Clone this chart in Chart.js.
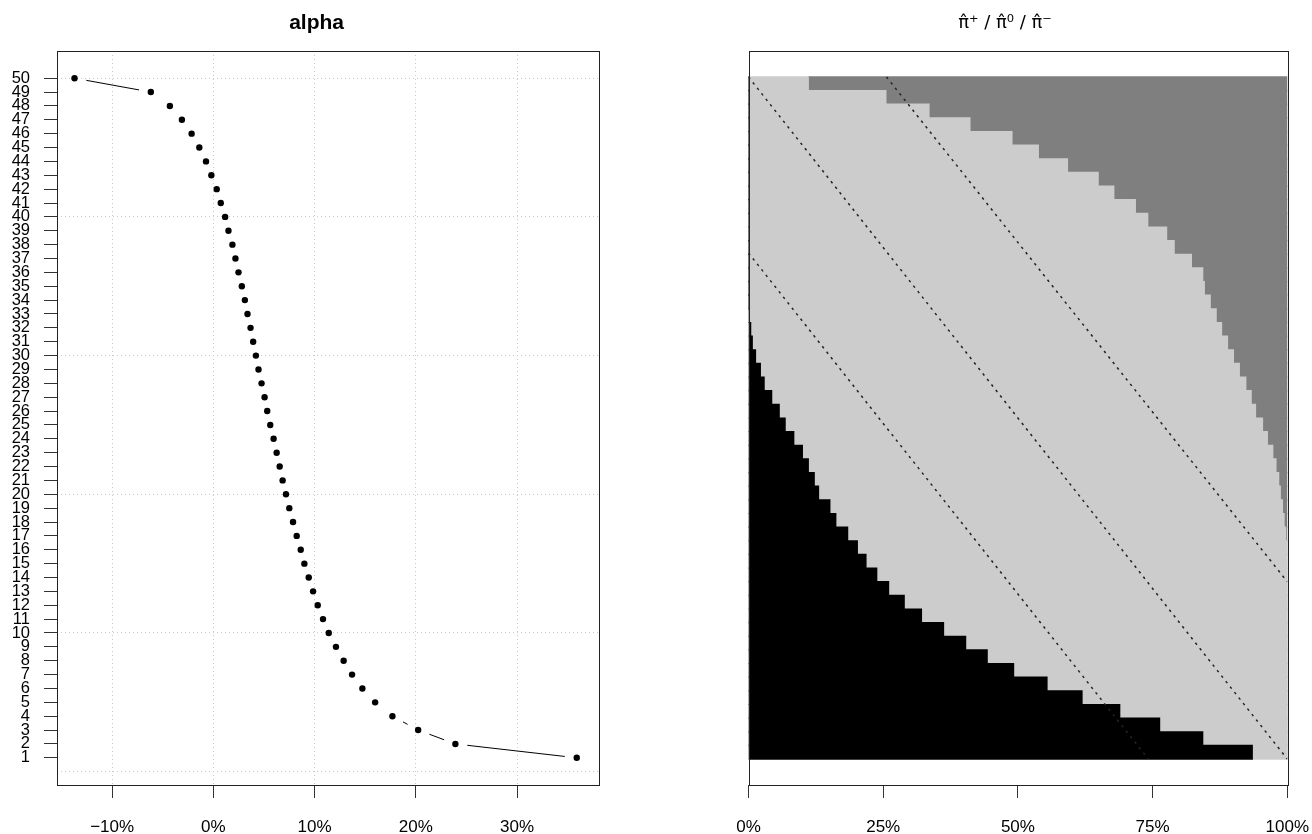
<!DOCTYPE html>
<html>
<head>
<meta charset="utf-8">
<script src="https://cdn.jsdelivr.net/npm/chart.js@4"></script>
<style>
  body { margin: 0; background: #fff; }
  canvas { position: absolute; top: 0; }
  #left { left: 0; }
  #right { left: 656px; }
</style>
</head>
<body>
<canvas id="left" width="656" height="834"></canvas>
<canvas id="right" width="656" height="834"></canvas>
<script>
// rows 1..50 (bottom to top)
const rows = [1, 2, 3, 4, 5, 6, 7, 8, 9, 10, 11, 12, 13, 14, 15, 16, 17, 18, 19, 20,
  21, 22, 23, 24, 25, 26, 27, 28, 29, 30, 31, 32, 33, 34, 35, 36, 37, 38, 39, 40,
  41, 42, 43, 44, 45, 46, 47, 48, 49, 50];

// alpha in percent, row 1..50
const alpha = [35.90, 23.91, 20.23, 17.69, 15.98, 14.72, 13.70, 12.87, 12.11, 11.40,
  10.83, 10.31, 9.85, 9.42, 8.99, 8.63, 8.23, 7.87, 7.50, 7.17,
  6.84, 6.55, 6.25, 5.95, 5.62, 5.32, 5.06, 4.76, 4.46, 4.20,
  3.93, 3.67, 3.37, 3.11, 2.81, 2.48, 2.18, 1.88, 1.49, 1.16,
  0.73, 0.33, -0.20, -0.73, -1.39, -2.15, -3.11, -4.30, -6.18, -13.72];

// shares per row (pi+ black, pi0 light gray, pi- dark gray)
const pPlus = [0.935, 0.843, 0.763, 0.689, 0.619, 0.554, 0.492, 0.443, 0.403, 0.362,
  0.321, 0.289, 0.260, 0.238, 0.218, 0.202, 0.184, 0.162, 0.151, 0.130,
  0.122, 0.111, 0.100, 0.084, 0.068, 0.057, 0.043, 0.029, 0.022, 0.013,
  0.007, 0.004, 0.001, 0, 0, 0, 0, 0, 0, 0,
  0, 0, 0, 0, 0, 0, 0, 0, 0, 0];
const pZero = [0.065, 0.157, 0.237, 0.311, 0.381, 0.446, 0.508, 0.557, 0.597, 0.638,
  0.679, 0.711, 0.740, 0.762, 0.782, 0.798, 0.813, 0.832, 0.840, 0.857,
  0.862, 0.868, 0.873, 0.879, 0.886, 0.884, 0.890, 0.894, 0.889, 0.887,
  0.882, 0.874, 0.867, 0.857, 0.846, 0.843, 0.822, 0.790, 0.776, 0.741,
  0.718, 0.678, 0.649, 0.592, 0.538, 0.489, 0.411, 0.335, 0.255, 0.111];
const pMinus = [0, 0, 0, 0, 0, 0, 0, 0, 0, 0,
  0, 0, 0, 0, 0, 0, 0.003, 0.006, 0.009, 0.013,
  0.016, 0.021, 0.027, 0.037, 0.046, 0.059, 0.067, 0.077, 0.089, 0.100,
  0.111, 0.122, 0.132, 0.143, 0.154, 0.157, 0.178, 0.210, 0.224, 0.259,
  0.282, 0.322, 0.351, 0.408, 0.462, 0.511, 0.589, 0.665, 0.745, 0.889];

// dotted reference lines on the right panel (x share, y row)
const refLowX = [0, 0.742], refLowY = [37.6, 0.5];
const refMidX = [0, 1], refMidY = [50.5, 0.5];
const refHighX = [0.256, 1], refHighY = [50.5, 13.5];

const leftXTicks = [-10, 0, 10, 20, 30];
const leftYTicks = [0, 1, 2, 3, 4, 5, 6, 7, 8, 9, 10, 11, 12, 13, 14, 15, 16, 17, 18, 19, 20,
  21, 22, 23, 24, 25, 26, 27, 28, 29, 30, 31, 32, 33, 34, 35, 36, 37, 38, 39, 40,
  41, 42, 43, 44, 45, 46, 47, 48, 49, 50];
const rightXTicks = [0, 0.25, 0.5, 0.75, 1];

const FONT = '"Liberation Sans", Arial, sans-serif';
Chart.defaults.font.family = FONT;
Chart.defaults.color = '#000';

const frame = {
  id: 'frame',
  afterDraw(chart) {
    const a = chart.chartArea, ctx = chart.ctx;
    ctx.save();
    ctx.strokeStyle = '#222';
    ctx.lineWidth = 1;
    ctx.strokeRect(Math.round(a.left) + 0.5, Math.round(a.top) + 0.5,
      Math.round(a.right - a.left), Math.round(a.bottom - a.top));
    ctx.restore();
  }
};

// R type="b": connect points but leave a gap around each one
const gappedLine = {
  id: 'gappedLine',
  afterDatasetsDraw(chart) {
    const pts = chart.getDatasetMeta(0).data;
    const ctx = chart.ctx, gap = 12;
    ctx.save();
    ctx.strokeStyle = '#000';
    ctx.lineWidth = 1;
    for (let i = 0; i < pts.length - 1; i++) {
      const a = pts[i], b = pts[i + 1];
      const dx = b.x - a.x, dy = b.y - a.y, d = Math.hypot(dx, dy);
      if (d <= 2 * gap) continue;
      ctx.beginPath();
      ctx.moveTo(a.x + dx / d * gap, a.y + dy / d * gap);
      ctx.lineTo(b.x - dx / d * gap, b.y - dy / d * gap);
      ctx.stroke();
    }
    ctx.restore();
  }
};

const tickFont = { size: 17 };
const noSidePad = s => { s.paddingLeft = 0; s.paddingRight = 0; };

new Chart(document.getElementById('left'), {
  type: 'scatter',
  data: {
    datasets: [{
      data: rows.map((r, i) => ({ x: alpha[i], y: r })),
      pointRadius: 3.2,
      pointBackgroundColor: '#000',
      pointBorderColor: '#000',
      pointBorderWidth: 0
    }]
  },
  options: {
    responsive: false,
    animation: false,
    events: [],
    layout: { padding: { left: 6, right: 58 } },
    plugins: {
      legend: { display: false },
      tooltip: { enabled: false },
      title: {
        display: true,
        text: '     alpha',
        color: '#000',
        font: { size: 21, weight: 'bold', lineHeight: '24px' },
        padding: { top: 11, bottom: 16 }
      }
    },
    scales: {
      x: {
        type: 'linear',
        min: -15.5,
        max: 38,
        afterBuildTicks: s => { s.ticks = leftXTicks.map(v => ({ value: v })); },
        afterFit: s => { s.height = 49; noSidePad(s); },
        grid: { color: '#c8c8c8', lineWidth: 1, tickColor: '#333', tickLength: 13 },
        border: { display: false, dash: [1, 3] },
        ticks: {
          font: tickFont,
          padding: 19,
          callback: v => (v < 0 ? '\u2212' + Math.abs(v) : v) + '%'
        }
      },
      y: {
        type: 'linear',
        min: -0.96,
        max: 51.96,
        z: 1,
        afterBuildTicks: s => { s.ticks = leftYTicks.map(v => ({ value: v })); },
        afterFit: s => { s.width = 50.5; },
        grid: {
          color: c => (c.tick && c.tick.value % 10 === 0) ? '#c8c8c8' : 'rgba(0,0,0,0)',
          tickColor: c => (c.tick && c.tick.value === 0) ? 'rgba(0,0,0,0)' : '#333',
          tickLength: 12.5
        },
        border: { display: false, dash: [1, 3] },
        ticks: {
          autoSkip: false,
          font: { size: 16.5 },
          padding: 14,
          callback: v => v === 0 ? '' : String(v)
        }
      }
    }
  },
  plugins: [gappedLine, frame]
});

const refLine = (xs, ys) => ({
  type: 'line',
  data: xs.map((x, i) => ({ x: x, y: ys[i] })),
  borderColor: '#222',
  borderWidth: 1.5,
  borderDash: [2.5, 4.5],
  pointRadius: 0,
  fill: false,
  order: 0
});

const bar = (vals, color) => ({
  type: 'bar',
  indexAxis: 'y',
  stack: 'p',
  data: rows.map((r, i) => ({ x: vals[i], y: r })),
  backgroundColor: color,
  borderWidth: 0,
  inflateAmount: 0.6,
  barPercentage: 1,
  categoryPercentage: 1,
  order: 1
});

new Chart(document.getElementById('right'), {
  type: 'bar',
  data: {
    datasets: [
      refLine(refLowX, refLowY),
      refLine(refMidX, refMidY),
      refLine(refHighX, refHighY),
      bar(pPlus, '#000000'),
      bar(pZero, '#cccccc'),
      bar(pMinus, '#7f7f7f')
    ]
  },
  options: {
    responsive: false,
    animation: false,
    events: [],
    layout: { padding: { left: 66.7, right: 24.7 } },
    plugins: {
      legend: { display: false },
      tooltip: { enabled: false },
      title: {
        display: true,
        text: 'π\u0302\u207A / π\u0302\u2070 / π\u0302\u207B',
        color: '#000',
        font: { family: '"DejaVu Sans", sans-serif', size: 18, weight: 'normal', lineHeight: '24px' },
        padding: { top: 11, bottom: 16 }
      }
    },
    scales: {
      x: {
        type: 'linear',
        min: 0,
        max: 1,
        offset: false,
        afterBuildTicks: s => { s.ticks = rightXTicks.map(v => ({ value: v })); },
        afterFit: s => { s.height = 49; noSidePad(s); },
        grid: { offset: false, drawOnChartArea: false, tickColor: '#333', tickLength: 13 },
        border: { display: false },
        ticks: {
          font: tickFont,
          padding: 19,
          callback: v => Math.round(v * 100) + '%'
        }
      },
      y: {
        type: 'linear',
        min: -1.4,
        max: 52.4,
        offset: false,
        afterFit: s => { s.width = 25.8; },
        grid: { offset: false, display: false },
        border: { display: false },
        ticks: { display: false }
      }
    }
  },
  plugins: [frame]
});
</script>
</body>
</html>
